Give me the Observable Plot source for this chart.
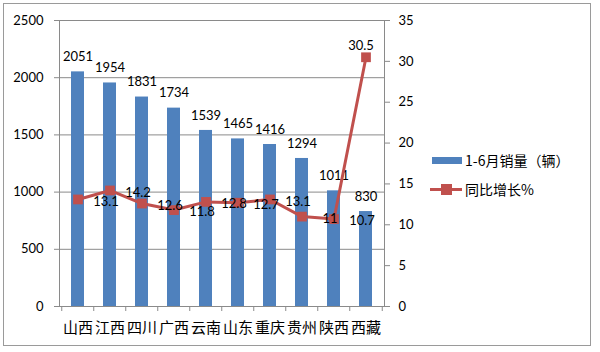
<!DOCTYPE html>
<html><head><meta charset="utf-8">
<script src="https://cdn.jsdelivr.net/npm/d3@7"></script>
<script src="https://cdn.jsdelivr.net/npm/@observablehq/plot@0.6"></script>
<style>
body{margin:0;background:#fff;}
#wrap{position:relative;width:600px;height:352px;overflow:hidden;font-family:Lato,"Noto Sans CJK SC",sans-serif;}
#border{position:absolute;left:3px;top:3px;width:586px;height:341px;border:1.5px solid #9a9a9a;}
#chart{position:absolute;left:0;top:0;}
.lg{position:absolute;font-family:"Noto Sans CJK SC",Lato,sans-serif;font-size:14px;color:#000;line-height:16px;white-space:nowrap;}
</style></head>
<body><div id="wrap"><div id="border"></div><div id="chart"></div>
<div id="legend"></div></div>
<script>
const cats = ["山西","江西","四川","广西","云南","山东","重庆","贵州","陕西","西藏"];
const sales = [2051,1954,1831,1734,1539,1465,1416,1294,1011,830];
const growth = [13.1,14.2,12.6,11.8,12.8,12.7,13.1,11,10.7,30.5];
const leftTicks = [0,500,1000,1500,2000,2500];
const rightTicks = [0,5,10,15,20,25,30,35];
const seriesNames = ["1-6月销量（辆）","同比增长%"];

const blue = "#4F81BD", red = "#C0504D", axisGray = "#8a8a8a";
const yMax = 2500, rMax = 35, k = yMax / rMax;
const data = cats.map((c,i)=>({cat:c, sales:sales[i], growth:growth[i], g:growth[i]*k, i}));
const last = data.length - 1;
const plotH = 352 - 20 - 46;
const tickLen = 5 * yMax / plotH;
const step = (600 - 59 - 216) / cats.length;

const chart = Plot.plot({
  width: 600, height: 352,
  marginLeft: 59, marginRight: 216, marginTop: 20, marginBottom: 46,
  style: {fontFamily: "Lato, 'Noto Sans CJK SC', sans-serif", fontSize: "13px", color: "#000", background: "transparent"},
  x: {domain: cats, paddingInner: 0.6, paddingOuter: 0.3, label: null},
  y: {domain: [0, yMax], label: null},
  marks: [
    Plot.gridY(leftTicks, {stroke: axisGray, strokeOpacity: 1, strokeWidth: 1}),
    Plot.axisY({ticks: leftTicks, anchor: "left", tickSize: 5, tickPadding: 11, stroke: axisGray, fontSize: 13, label: null, tickFormat: d => String(d)}),
    Plot.axisY({ticks: rightTicks.map(t=>t*k), anchor: "right", tickSize: 5, tickPadding: 9, stroke: axisGray, fontSize: 13, label: null, tickFormat: d => String(Math.round(d / k))}),
    Plot.axisX({anchor: "bottom", tickSize: 0, tickPadding: 16, fontSize: 15, fontFamily: "'Noto Sans CJK SC', sans-serif", label: null}),
    Plot.frame({anchor: "left", stroke: axisGray}),
    Plot.frame({anchor: "right", stroke: axisGray}),
    Plot.ruleX(data, {x: "cat", dx: -step/2, y1: 0, y2: -tickLen, stroke: axisGray}),
    Plot.ruleX([data[last]], {x: "cat", dx: step/2, y1: 0, y2: -tickLen, stroke: axisGray}),
    Plot.barY(data, {x: "cat", y: "sales", fill: blue}),
    Plot.ruleY([0], {stroke: axisGray}),
    Plot.text(data, {x: "cat", y: "sales", text: d => String(d.sales), dy: -15, lineAnchor: "middle", fill: "#000", fontSize: 13}),
    Plot.line(data, {x: "cat", y: "g", stroke: red, strokeWidth: 3}),
    Plot.dot(data, {x: "cat", y: "g", symbol: "square", r: 5.5, fill: red, stroke: "none"}),
    Plot.text(data.filter(d=>d.i !== last), {x: "cat", y: "g", text: d => String(d.growth), dx: 28, dy: 2, lineAnchor: "middle", fill: "#000", fontSize: 13}),
    Plot.text([data[last]], {x: "cat", y: "g", text: d => String(d.growth), dx: -5, dy: -11, lineAnchor: "middle", fill: "#000", fontSize: 13})
  ]
});
document.getElementById("chart").appendChild(chart);

// legend
const lg = document.getElementById("legend");
lg.innerHTML = `
<div style="position:absolute;left:432px;top:157px;width:30px;height:7px;background:${blue}"></div>
<div class="lg" style="left:465px;top:152px">${seriesNames[0]}</div>
<div style="position:absolute;left:430px;top:188px;width:32px;height:3px;background:${red}"></div>
<div style="position:absolute;left:441px;top:184px;width:11px;height:11px;background:${red}"></div>
<div class="lg" style="left:465px;top:181px">${seriesNames[1]}</div>`;
</script></body></html>
